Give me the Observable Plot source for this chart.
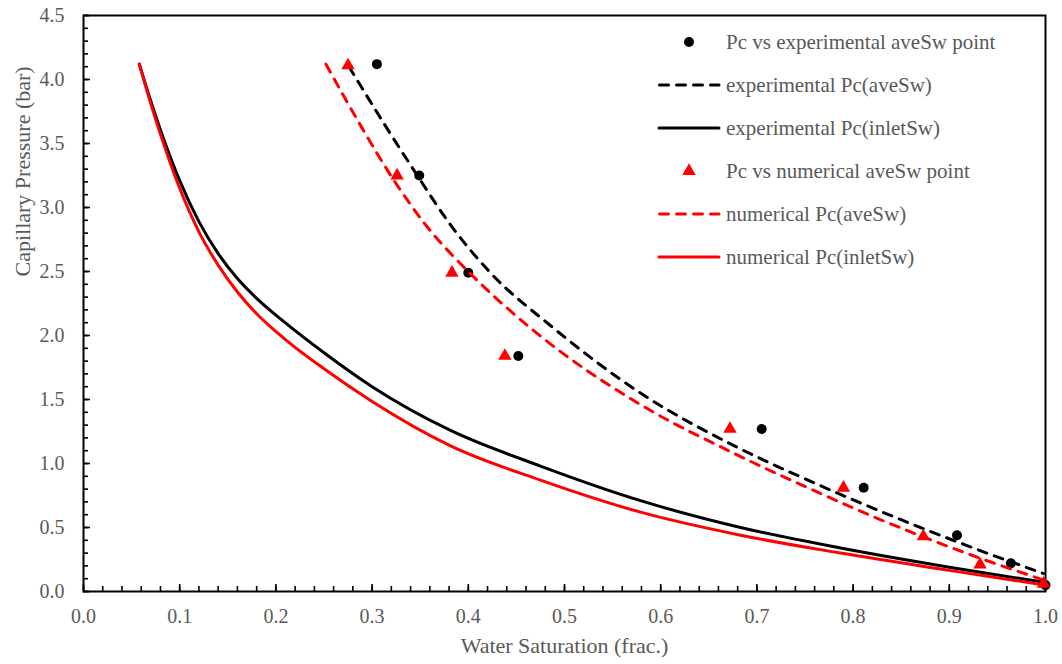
<!DOCTYPE html>
<html>
<head>
<meta charset="utf-8">
<script src="https://cdn.jsdelivr.net/npm/d3@7"></script>
<script src="https://cdn.jsdelivr.net/npm/@observablehq/plot@0.6"></script>
<style>
  html, body { margin: 0; padding: 0; background: #fff; }
  #wrap { position: relative; width: 1062px; height: 664px; font-family: "Liberation Serif", "Times New Roman", serif; }
  #chart svg, #chart svg text { font-family: "Liberation Serif", "Times New Roman", serif !important; }
  #legend { position: absolute; left: 0; top: 0; }
  .row { position: absolute; left: 656px; height: 24px; display: flex; align-items: center; white-space: nowrap; }
  .row svg { width: 66px; height: 24px; flex: none; }
  .row span { font-size: 21px; color: #595959; margin-left: 4px; line-height: 24px; }
</style>
</head>
<body>
<div id="wrap"><div id="chart"></div><div id="legend"></div></div>
<script>
// ---- data ----
const expPointSw = [0.305, 0.349, 0.400, 0.452, 0.705, 0.811, 0.908, 0.964, 1.000];
const expPointPc = [4.12, 3.25, 2.49, 1.84, 1.27, 0.81, 0.44, 0.22, 0.05];
const numPointSw = [0.275, 0.326, 0.383, 0.438, 0.672, 0.790, 0.873, 0.932, 0.998];
const numPointPc = [4.11, 3.25, 2.49, 1.84, 1.27, 0.81, 0.43, 0.21, 0.06];

const expAveSw = [0.276, 0.312, 0.347, 0.380, 0.423, 0.485, 0.579, 0.676, 0.753, 0.821, 0.932, 0.998];
const expAvePc = [4.10, 3.66, 3.25, 2.88, 2.49, 2.08, 1.55, 1.14, 0.87, 0.65, 0.32, 0.14];
const numAveSw = [0.252, 0.285, 0.322, 0.354, 0.404, 0.466, 0.579, 0.676, 0.753, 0.821, 0.932, 0.998];
const numAvePc = [4.12, 3.68, 3.22, 2.88, 2.47, 2.05, 1.46, 1.08, 0.81, 0.585, 0.26, 0.09];

const expInletSw = [0.058, 0.070, 0.085, 0.100, 0.120, 0.140, 0.160, 0.180, 0.208, 0.250, 0.300, 0.381, 0.475, 0.579, 0.683, 0.787, 0.900, 1.000];
const expInletPc = [4.12, 3.83, 3.50, 3.21, 2.89, 2.64, 2.445, 2.29, 2.11, 1.865, 1.60, 1.26, 0.98, 0.71, 0.50, 0.34, 0.19, 0.07];
const numInletSw = [0.058, 0.070, 0.085, 0.100, 0.120, 0.140, 0.160, 0.180, 0.208, 0.250, 0.300, 0.381, 0.475, 0.579, 0.683, 0.787, 0.900, 1.000];
const numInletPc = [4.12, 3.81, 3.46, 3.15, 2.81, 2.55, 2.34, 2.17, 1.98, 1.74, 1.485, 1.14, 0.87, 0.62, 0.44, 0.30, 0.165, 0.05];

const xTicks = [0.0, 0.1, 0.2, 0.3, 0.4, 0.5, 0.6, 0.7, 0.8, 0.9, 1.0];
const yTicks = [0.0, 0.5, 1.0, 1.5, 2.0, 2.5, 3.0, 3.5, 4.0, 4.5];
const xMinorTicks = d3.range(0, 51).map(i => +(i * 0.02).toFixed(2));
const yMinorTicks = d3.range(0, 46).map(i => +(i * 0.1).toFixed(1));

const xTitle = "Water Saturation (frac.)";
const yTitle = "Capillary Pressure (bar)";
const legendLabels = [
  "Pc vs experimental aveSw point",
  "experimental Pc(aveSw)",
  "experimental Pc(inletSw)",
  "Pc vs numerical aveSw point",
  "numerical Pc(aveSw)",
  "numerical Pc(inletSw)"
];

const zip = (xs, ys) => xs.map((x, i) => ({x, y: ys[i]}));
const expPts = zip(expPointSw, expPointPc);
const numPts = zip(numPointSw, numPointPc);
const expAve = zip(expAveSw, expAvePc);
const numAve = zip(numAveSw, numAvePc);
const expIn = zip(expInletSw, expInletPc);
const numIn = zip(numInletSw, numInletPc);

const gray = "#595959";
const serif = "'Liberation Serif', 'Times New Roman', serif";
const fmt = d3.format(".1f");
const dash = "9,8";
const curve = "monotone-x";

const chart = Plot.plot({
  width: 1062,
  height: 664,
  marginLeft: 83,
  marginRight: 17,
  marginTop: 15,
  marginBottom: 73,
  style: {fontFamily: serif, background: "#fff"},
  x: {domain: [0, 1], axis: null},
  y: {domain: [0, 4.5], axis: null},
  marks: [
    // inward tick marks along the bottom (y = 0) and left (x = 0) axes
    Plot.ruleX(xMinorTicks, {x: d => d, y1: 0, y2: 0, insetBottom: 5, stroke: "black", strokeWidth: 1.6}),
    Plot.ruleX(xTicks, {x: d => d, y1: 0, y2: 0, insetBottom: 7, stroke: "black", strokeWidth: 1.6}),
    Plot.ruleY(yMinorTicks, {y: d => d, x1: 0, x2: 0, insetRight: -5, stroke: "black", strokeWidth: 1.6}),
    Plot.ruleY(yTicks, {y: d => d, x1: 0, x2: 0, insetRight: -7, stroke: "black", strokeWidth: 1.6}),
    // tick labels
    Plot.axisX({ticks: xTicks, tickSize: 0, tickPadding: 17, tickFormat: fmt, fill: gray, fontSize: 20, fontFamily: serif, label: null}),
    Plot.axisY({ticks: yTicks, tickSize: 0, tickPadding: 19, tickFormat: fmt, fill: gray, fontSize: 20, fontFamily: serif, label: null}),
    Plot.frame({stroke: "black", strokeWidth: 2}),
    // series
    Plot.dot(expPts, {x: "x", y: "y", r: 5, fill: "black", stroke: "none"}),
    Plot.line(expAve, {x: "x", y: "y", stroke: "black", strokeWidth: 3, strokeDasharray: dash, strokeLinecap: "round", curve}),
    Plot.line(expIn, {x: "x", y: "y", stroke: "black", strokeWidth: 3, curve}),
    Plot.dot(numPts, {x: "x", y: "y", r: 5, symbol: "triangle", fill: "#ff0000", stroke: "none"}),
    Plot.line(numAve, {x: "x", y: "y", stroke: "#ff0000", strokeWidth: 3, strokeDasharray: dash, strokeLinecap: "round", curve}),
    Plot.line(numIn, {x: "x", y: "y", stroke: "#ff0000", strokeWidth: 3, curve}),
    // axis titles
    Plot.text([xTitle], {text: d => d, frameAnchor: "bottom", dy: 54, fill: gray, fontSize: 22, fontFamily: serif, lineAnchor: "middle"}),
    Plot.text([yTitle], {text: d => d, frameAnchor: "left", dx: -61, dy: -27, rotate: -90, fill: gray, fontSize: 22, fontFamily: serif, lineAnchor: "middle"})
  ]
});
document.getElementById("chart").appendChild(chart);

// legend (overlay, inside the plot area at the top right)
const legendStyles = [
  {type: "dot", color: "black"},
  {type: "dash", color: "black"},
  {type: "solid", color: "black"},
  {type: "tri", color: "#ff0000"},
  {type: "dash", color: "#ff0000"},
  {type: "solid", color: "#ff0000"}
];
const legend = document.getElementById("legend");
legendLabels.forEach((label, i) => {
  const s = legendStyles[i];
  const row = document.createElement("div");
  row.className = "row";
  row.style.top = (30 + i * 43) + "px";
  let sym = "";
  if (s.type === "dot") sym = `<circle cx="33" cy="12" r="5" fill="${s.color}"/>`;
  else if (s.type === "tri") sym = `<path transform="translate(33,12)" d="${d3.symbol(d3.symbolTriangle, Math.PI * 25)()}" fill="${s.color}"/>`;
  else if (s.type === "dash") sym = `<line x1="3.5" x2="63" y1="12" y2="12" stroke="${s.color}" stroke-width="3" stroke-dasharray="${dash}" stroke-linecap="round"/>`;
  else sym = `<line x1="3" x2="63" y1="12" y2="12" stroke="${s.color}" stroke-width="3" stroke-linecap="round"/>`;
  row.innerHTML = `<svg viewBox="0 0 66 24">${sym}</svg><span>${label}</span>`;
  legend.appendChild(row);
});
</script>
</body>
</html>
